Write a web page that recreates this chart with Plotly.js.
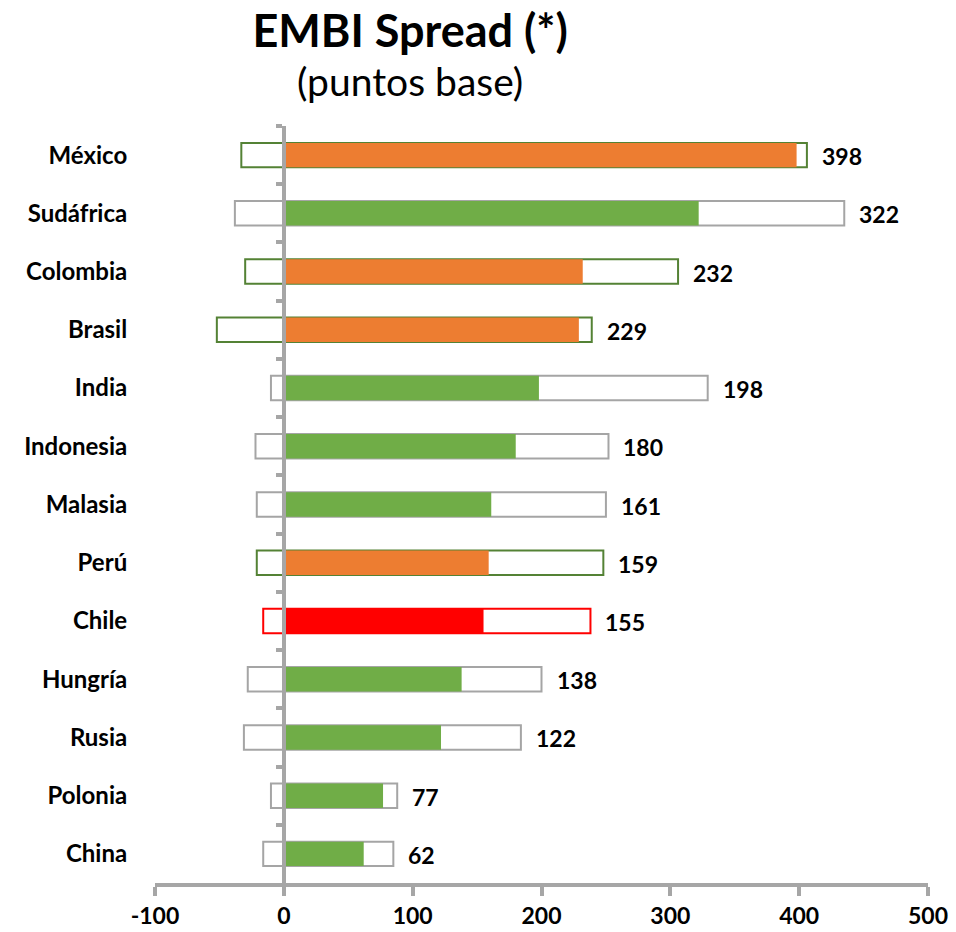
<!DOCTYPE html>
<html>
<head>
<meta charset="utf-8">
<script src="https://cdn.plot.ly/plotly-3.0.1.min.js"></script>
<style>
  html, body { margin: 0; padding: 0; background: #fff; }
  #graph { width: 956px; height: 932px; }
</style>
</head>
<body>
<div id="graph"></div>
<script>
let countries = ["México", "Sudáfrica", "Colombia", "Brasil", "India", "Indonesia", "Malasia", "Perú", "Chile", "Hungría", "Rusia", "Polonia", "China"];
let spread = [398, 322, 232, 229, 198, 180, 161, 159, 155, 138, 122, 77, 62];
let rangeLow = [-33, -38, -30, -52, -10, -22, -21, -21, -16, -28, -31, -10, -16];
let rangeHigh = [406, 435, 306, 239, 329, 252, 250, 248, 238, 200, 184, 88, 85];
let group = ["latam", "other", "latam", "latam", "other", "other", "other", "latam", "chile", "other", "other", "other", "other"];

let fillColors = { latam: "#ED7D31", other: "#70AD47", chile: "#FF0000" };
let lineColors = { latam: "#548235", other: "#A5A5A5", chile: "#FF0000" };

let font = "Lato, 'Open Sans', sans-serif";

function plot() {
    let outline = {
        type: "bar",
        orientation: "h",
        y: countries,
        x: rangeHigh.map((h, i) => h - rangeLow[i]),
        base: rangeLow,
        width: 0.42,
        marker: {
            color: "rgba(255,255,255,1)",
            line: { color: group.map(g => lineColors[g]), width: 2 }
        },
        yaxis: "y",
        hoverinfo: "skip",
        showlegend: false
    };

    let bars = {
        type: "bar",
        orientation: "h",
        y: countries,
        x: spread,
        width: 0.42,
        marker: {
            color: group.map(g => fillColors[g]),
            line: { width: 0 }
        },
        yaxis: "y2",
        showlegend: false
    };

    let labels = countries.map((c, i) => ({
        x: rangeHigh[i],
        y: c,
        xref: "x",
        yref: "y",
        text: "<b>" + spread[i] + "</b>",
        showarrow: false,
        xanchor: "left",
        yanchor: "middle",
        xshift: 13,
        yshift: -1,
        font: { family: font, size: 23, color: "#000" }
    }));

    labels.push({
        xref: "paper",
        yref: "paper",
        x: 0.33,
        y: 1.06,
        text: "(puntos base)",
        showarrow: false,
        xanchor: "center",
        yanchor: "middle",
        font: { family: font, size: 39, color: "#000" }
    });

    let layout = {
        width: 956,
        height: 932,
        paper_bgcolor: "#fff",
        plot_bgcolor: "#fff",
        margin: { l: 155, r: 28, t: 126, b: 49 },
        barmode: "overlay",
        font: { family: font, color: "#000" },
        title: {
            text: "<b>EMBI Spread (*)</b>",
            font: { family: font, size: 45, color: "#000" },
            xref: "container",
            yref: "container",
            x: 0.429,
            y: 0.967,
            xanchor: "center",
            yanchor: "middle"
        },
        xaxis: {
            range: [-100, 500],
            tickvals: [-100, 0, 100, 200, 300, 400, 500],
            ticktext: ["<b>-100</b>", "<b>0</b>", "<b>100</b>", "<b>200</b>", "<b>300</b>", "<b>400</b>", "<b>500</b>"],
            showgrid: false,
            zeroline: false,
            showline: true,
            linecolor: "#A6A6A6",
            linewidth: 4,
            ticks: "outside",
            ticklen: 9,
            tickwidth: 4,
            tickcolor: "#A6A6A6",
            tickfont: { family: font, size: 23, color: "#000" }
        },
        yaxis: {
            type: "category",
            categoryorder: "array",
            categoryarray: countries,
            range: [12.5, -0.5],
            showgrid: false,
            zeroline: false,
            showline: false,
            ticks: "outside",
            ticklen: 22,
            tickcolor: "rgba(0,0,0,0)",
            tickvals: countries,
            ticktext: countries.map(c => "<b>" + c + "</b>"),
            tickfont: { family: font, size: 24, color: "#000" }
        },
        yaxis2: {
            type: "category",
            categoryorder: "array",
            categoryarray: countries,
            range: [12.5, -0.5],
            overlaying: "y",
            anchor: "free",
            position: 1 / 6,
            side: "left",
            showgrid: false,
            zeroline: false,
            showline: true,
            linecolor: "#A6A6A6",
            linewidth: 4,
            ticks: "outside",
            tickson: "boundaries",
            ticklen: 6,
            tickwidth: 4,
            tickcolor: "#A6A6A6",
            showticklabels: false
        },
        annotations: labels
    };

    Plotly.newPlot("graph", [outline, bars], layout, { displayModeBar: false });
}

plot();
</script>
</body>
</html>
